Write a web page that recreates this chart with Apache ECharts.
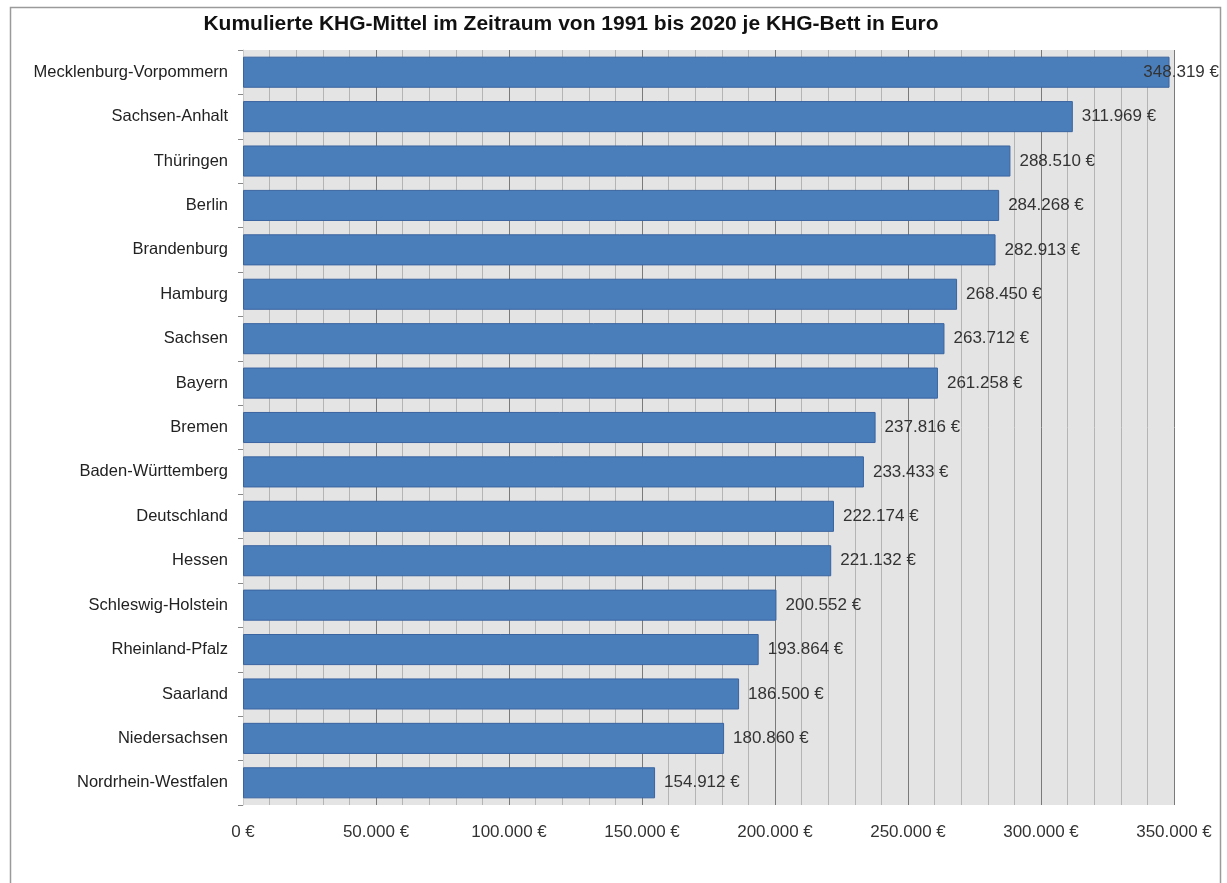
<!DOCTYPE html>
<html>
<head>
<meta charset="utf-8">
<script src="https://cdn.jsdelivr.net/npm/echarts@6/dist/echarts.min.js"></script>
<style>
  html, body { margin: 0; padding: 0; background: #ffffff; }
  #chart { width: 1227px; height: 883px; }
</style>
</head>
<body>
<div id="chart"></div>
<script>
// Bundesländer, sortiert nach kumulierten KHG-Mitteln je Bett
const laender = [
  'Mecklenburg-Vorpommern', 'Sachsen-Anhalt', 'Thüringen', 'Berlin', 'Brandenburg',
  'Hamburg', 'Sachsen', 'Bayern', 'Bremen', 'Baden-Württemberg', 'Deutschland',
  'Hessen', 'Schleswig-Holstein', 'Rheinland-Pfalz', 'Saarland', 'Niedersachsen',
  'Nordrhein-Westfalen'
];
// Kumulierte KHG-Mittel 1991–2020 je KHG-Bett in Euro
const mittelJeBett = [
  348319, 311969, 288510, 284268, 282913, 268450, 263712, 261258, 237816,
  233433, 222174, 221132, 200552, 193864, 186500, 180860, 154912
];
// Achsenbereich in Euro
const achseMin = 0;
const achseMax = 350000;
const achseSchritt = 50000;

const chartTitle = 'Kumulierte KHG-Mittel im Zeitraum von 1991 bis 2020 je KHG-Bett in Euro';

function euro(v) {
  return String(Math.round(v)).replace(/\B(?=(\d{3})+(?!\d))/g, '.') + ' €';
}

const FONT = 'Liberation Sans, Arial, sans-serif';
const chart = echarts.init(document.getElementById('chart'), null, { renderer: 'canvas' });
const W = 1227;

chart.setOption({
  backgroundColor: '#ffffff',
  animation: false,
  textStyle: { fontFamily: FONT },
  graphic: [{
    type: 'rect',
    shape: { x: 10.5, y: 7.5, width: 1210, height: 900 },
    style: { fill: null, stroke: '#9a9a9a', lineWidth: 1.5 },
    silent: true
  }],
  title: {
    text: chartTitle,
    left: 566,
    textAlign: 'center',
    top: 9,
    textStyle: { fontSize: 21, fontWeight: 'bold', color: '#111', fontFamily: FONT }
  },
  grid: {
    left: 243, right: 53, top: 50, bottom: 78,
    show: true, backgroundColor: '#e4e4e4', borderWidth: 0
  },
  xAxis: {
    type: 'value',
    min: achseMin, max: achseMax, interval: achseSchritt,
    axisLine: { show: false },
    axisTick: { show: false },
    axisLabel: { formatter: euro, color: '#333', fontSize: 17, margin: 19 },
    splitLine: { show: true, lineStyle: { color: '#7a7a7a', width: 1 } },
    minorTick: { show: false, splitNumber: 5 },
    minorSplitLine: { show: true, lineStyle: { color: '#b4b4b4', width: 1 } }
  },
  yAxis: {
    type: 'category',
    data: laender,
    inverse: true,
    axisLine: { show: true, lineStyle: { color: '#c8c8c8' } },
    axisTick: { show: true, length: 5, lineStyle: { color: '#888' } },
    axisLabel: { color: '#222', fontSize: 16.5, margin: 15 },
    splitLine: { show: false }
  },
  series: [{
    type: 'bar',
    data: mittelJeBett,
    barCategoryGap: '30%',
    itemStyle: { color: '#4a7ebb', borderColor: '#3a64a0', borderWidth: 1 },
    label: {
      show: true,
      position: 'right',
      distance: 9,
      formatter: p => euro(p.value),
      color: '#333',
      fontSize: 17
    },
    // keep a label that would run past the chart edge inside it, on the same row
    labelLayout: function (params) {
      const r = params.labelRect;
      const limit = W - 8;
      if (r.x + r.width > limit) {
        return { x: limit - r.width, y: r.y + r.height / 2, align: 'left', verticalAlign: 'middle' };
      }
      return {};
    }
  }]
});
</script>
</body>
</html>
